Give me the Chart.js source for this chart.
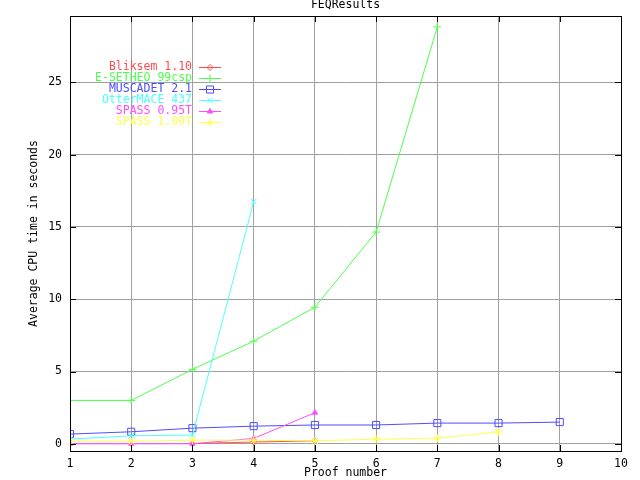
<!DOCTYPE html>
<html>
<head>
<meta charset="utf-8">
<script src="https://cdn.jsdelivr.net/npm/chart.js@4.4.1/dist/chart.umd.min.js"></script>
<style>
  html, body { margin: 0; padding: 0; background: #fff; }
  #wrap { width: 640px; height: 480px; }
</style>
</head>
<body>
<div id="wrap"><canvas id="feq" width="640" height="480"></canvas></div>
<script>
// values, one entry per proof number starting at 1
const proofNumbers = [1, 2, 3, 4, 5, 6, 7, 8, 9, 10];
const yTickValues = [0, 5, 10, 15, 20, 25];

const bliksem   = [null, null, 0.02, 0.12, 0.2];
const esetheo   = [3.0, 3.0, 5.15, 7.1, 9.45, 14.65, 28.85];
const muscadet  = [0.67, 0.83, 1.08, 1.22, 1.3, 1.3, 1.43, 1.43, 1.5];
const ottermace = [0.32, 0.55, 0.6, 16.75];
const spass095  = [0.0, 0.0, 0.0, 0.37, 2.15];
const spass100  = [0.16, 0.16, 0.25, 0.25, 0.2, 0.32, 0.39, 0.82];

const seriesNames = ['Bliksem 1.10', 'E-SETHEO 99csp', 'MUSCADET 2.1',
                     'OtterMACE 437', 'SPASS 0.95T', 'SPASS 1.00T'];
const seriesValues = [bliksem, esetheo, muscadet, ottermace, spass095, spass100];
const seriesColors = ['#ff4d4d', '#4dff4d', '#4d4dff', '#4dffff', '#ff4dff', '#ffff4d'];
const seriesPoints = ['rectRot', 'cross', 'rect', 'crossRot', 'triangle', 'star'];
const pointRadius  = [3, 4, 5, 4, 3, 4];

const FONT = '11.5px "DejaVu Sans Mono", monospace';

function toXY(vals) {
  const out = [];
  vals.forEach(function (v, i) {
    if (v !== null) out.push({ x: proofNumbers[i], y: v });
  });
  return out;
}

function pointFill(i) {
  return seriesPoints[i] === 'triangle' ? seriesColors[i] : 'rgba(0,0,0,0)';
}

const datasets = seriesNames.map(function (name, i) {
  return {
    label: name,
    data: toXY(seriesValues[i]),
    borderColor: seriesColors[i],
    backgroundColor: seriesColors[i],
    pointBackgroundColor: pointFill(i),
    pointBorderColor: seriesColors[i],
    pointStyle: seriesPoints[i],
    pointRadius: pointRadius[i],
    pointBorderWidth: 1,
    borderWidth: 1,
    tension: 0,
    order: -i  // later series drawn on top, like gnuplot
  };
});

// frame, inward ticks, titles and the key
const decor = {
  id: 'decor',
  afterDatasetsDraw(chart) {
    const c = chart.ctx, a = chart.chartArea;
    const xs = chart.scales.x, ys = chart.scales.y;
    c.save();
    c.strokeStyle = '#000';
    c.lineWidth = 1;
    c.beginPath();
    proofNumbers.forEach(function (p) {
      const x = Math.round(xs.getPixelForValue(p)) + 0.5;
      c.moveTo(x, a.bottom); c.lineTo(x, a.bottom - 6);
      c.moveTo(x, a.top); c.lineTo(x, a.top + 6);
    });
    yTickValues.forEach(function (v) {
      const y = Math.round(ys.getPixelForValue(v)) + 0.5;
      c.moveTo(a.left, y); c.lineTo(a.left + 6, y);
      c.moveTo(a.right, y); c.lineTo(a.right - 6, y);
    });
    c.stroke();
    c.strokeRect(Math.round(a.left) + 0.5, Math.round(a.top) + 0.5,
                 Math.round(a.right - a.left), Math.round(a.bottom - a.top));

    c.fillStyle = '#000';
    c.font = FONT;
    c.textAlign = 'center';
    c.textBaseline = 'middle';
    c.fillText('FEQResults', (a.left + a.right) / 2, 5);
    c.fillText('Proof number', (a.left + a.right) / 2, 473);
    c.save();
    c.translate(34, (a.top + a.bottom) / 2);
    c.rotate(-Math.PI / 2);
    c.fillText('Average CPU time in seconds', 0, 0);
    c.restore();

    // key
    c.textAlign = 'right';
    seriesNames.forEach(function (name, i) {
      const y = 67 + i * 11;
      c.fillStyle = seriesColors[i];
      c.fillText(name, 192, y);
      c.strokeStyle = seriesColors[i];
      c.beginPath();
      c.moveTo(199, y + 0.5); c.lineTo(221, y + 0.5);
      c.stroke();
      c.fillStyle = pointFill(i);
      Chart.helpers.drawPoint(c, {
        pointStyle: seriesPoints[i],
        radius: pointRadius[i],
        rotation: 0,
        borderWidth: 1
      }, 210, y + 0.5);
    });
    c.restore();
  }
};

new Chart(document.getElementById('feq'), {
  type: 'line',
  data: { datasets: datasets },
  options: {
    responsive: false,
    animation: false,
    layout: { padding: { top: 16, right: 19, left: 0, bottom: 0 } },
    scales: {
      x: {
        type: 'linear',
        min: 1, max: 10,
        ticks: { stepSize: 1, color: '#000', font: { family: '"DejaVu Sans Mono", monospace', size: 11.5 }, padding: 6, maxRotation: 0 },
        grid: { color: '#a0a0a0', drawTicks: false },
        border: { display: false },
        afterFit(s) { s.height = 29; }
      },
      y: {
        min: -0.5, max: 29.6,
        afterBuildTicks(s) { s.ticks = yTickValues.map(v => ({ value: v })); },
        ticks: { color: '#000', font: { family: '"DejaVu Sans Mono", monospace', size: 11.5 }, padding: 8 },
        grid: { color: '#a0a0a0', drawTicks: false },
        border: { display: false },
        afterFit(s) { s.width = 70; }
      }
    },
    plugins: {
      legend: { display: false },
      title: { display: false },
      tooltip: { enabled: false }
    }
  },
  plugins: [decor]
});
</script>
</body>
</html>
